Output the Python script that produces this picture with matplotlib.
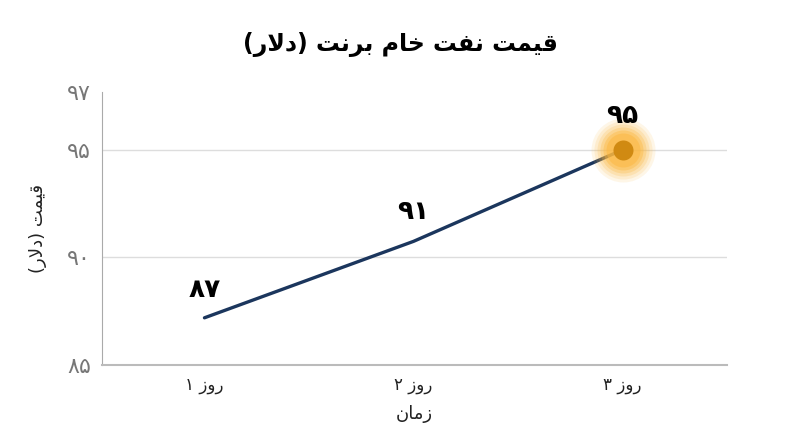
import matplotlib.pyplot as plt

# chart data (logical Persian text)
title = 'قیمت نفت خام برنت (دلار)'
x_title = 'زمان'
y_title = 'قیمت (دلار)'
days = ['روز ۱', 'روز ۲', 'روز ۳']
prices = [87.2, 90.75, 95.0]
price_labels = ['۸۷', '۹۱', '۹۵']
ytick_vals = [85, 90, 95, 97.7]
ytick_labels = ['۸۵', '۹۰', '۹۵', '۹۷']

# matplotlib has no Arabic shaping, so map letters to presentation forms
# (isolated, final, initial, medial); None = does not join forward
FORMS = {
    'ا': ('\uFE8D', '\uFE8E', None, None),
    'ب': ('\uFE8F', '\uFE90', '\uFE91', '\uFE92'),
    'ت': ('\uFE95', '\uFE96', '\uFE97', '\uFE98'),
    'خ': ('\uFEA5', '\uFEA6', '\uFEA7', '\uFEA8'),
    'د': ('\uFEA9', '\uFEAA', None, None),
    'ر': ('\uFEAD', '\uFEAE', None, None),
    'ز': ('\uFEAF', '\uFEB0', None, None),
    'ف': ('\uFED1', '\uFED2', '\uFED3', '\uFED4'),
    'ق': ('\uFED5', '\uFED6', '\uFED7', '\uFED8'),
    'ل': ('\uFEDD', '\uFEDE', '\uFEDF', '\uFEE0'),
    'م': ('\uFEE1', '\uFEE2', '\uFEE3', '\uFEE4'),
    'ن': ('\uFEE5', '\uFEE6', '\uFEE7', '\uFEE8'),
    'و': ('\uFEED', '\uFEEE', None, None),
    'ی': ('\uFBFC', '\uFBFD', '\uFBFE', '\uFBFF'),
}
MIRROR = {'(': ')', ')': '('}


def fa(text):
    out = []
    i = 0
    while i < len(text):
        c = text[i]
        prev = text[i - 1] if i > 0 else None
        nxt = text[i + 1] if i + 1 < len(text) else None
        jp = prev in FORMS and FORMS[prev][2] is not None
        if c == 'ل' and nxt == 'ا':
            out.append('\uFEFC' if jp else '\uFEFB')
            i += 2
            continue
        if c in FORMS:
            iso, fin, ini, med = FORMS[c]
            jn = ini is not None and nxt in FORMS
            if jp and jn:
                out.append(med)
            elif jp:
                out.append(fin)
            elif jn:
                out.append(ini)
            else:
                out.append(iso)
        else:
            out.append(MIRROR.get(c, c))
        i += 1
    return ''.join(reversed(out))


plt.rcParams['font.family'] = ['DejaVu Sans']

fig = plt.figure(figsize=(8, 4.47), dpi=100)
ax = fig.add_axes([0.1275, 0.183, 0.7815, 0.612])

xs = list(range(len(days)))
ax.plot(xs, prices, color='#1b365d', lw=2.4, solid_capstyle='round', zorder=3)

# glow around the last point (radii in pixels)
for r, a in [(32, 0.12), (29, 0.15), (26, 0.2), (23, 0.28), (20, 0.4), (17, 0.5)]:
    s = (2 * r * 0.72) ** 2
    ax.scatter([xs[-1]], [prices[-1]], s=s, color='#fbb740', alpha=a, lw=0, zorder=4)
ax.scatter([xs[-1]], [prices[-1]], s=(2 * 10 * 0.72) ** 2, color='#d08a12', lw=0, zorder=5)

offsets = [11, 12, 15]
for x, y, lab, off in zip(xs, prices, price_labels, offsets):
    ax.annotate(lab, (x, y), xytext=(0, off), textcoords='offset points',
                ha='center', va='bottom', fontsize=19, fontweight='bold', color='black', zorder=6)

ax.set_xlim(-0.49, 2.5)
ax.set_ylim(85, 97.7)
ax.set_xticks(xs)
ax.set_xticklabels([fa(d) for d in days], fontsize=12, color='#222222')
ax.set_yticks(ytick_vals)
ax.set_yticklabels(ytick_labels, fontsize=16, color='#777777')
ax.tick_params(axis='both', length=0)
ax.tick_params(axis='y', pad=8)
ax.tick_params(axis='x', pad=8)

for v in [90, 95]:
    ax.axhline(v, color='#dddddd', lw=1, zorder=1)

for side in ['top', 'right']:
    ax.spines[side].set_visible(False)
ax.spines['left'].set_color('#aaaaaa')
ax.spines['bottom'].set_color('#bbbbbb')
ax.spines['bottom'].set_linewidth(1.5)

ax.set_xlabel(fa(x_title), fontsize=13, color='#222222', labelpad=8)
ax.set_ylabel(fa(y_title), fontsize=13, color='#222222', labelpad=14)
fig.text(0.5, 0.9, fa(title), ha='center', va='center', fontsize=17, fontweight='bold')

fig.savefig('out.png', dpi=100, facecolor='white')
